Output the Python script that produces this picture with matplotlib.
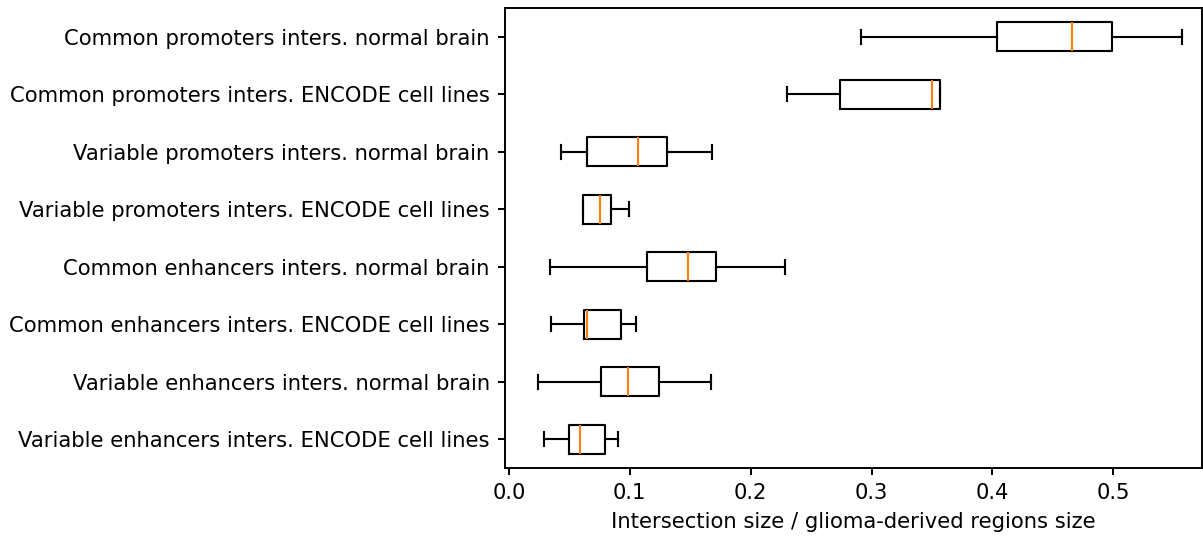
import matplotlib
matplotlib.use("Agg")
import matplotlib.pyplot as plt

# Categories, listed bottom to top as they appear on the y axis
categories = [
    "Variable enhancers inters. ENCODE cell lines",
    "Variable enhancers inters. normal brain",
    "Common enhancers inters. ENCODE cell lines",
    "Common enhancers inters. normal brain",
    "Variable promoters inters. ENCODE cell lines",
    "Variable promoters inters. normal brain",
    "Common promoters inters. ENCODE cell lines",
    "Common promoters inters. normal brain",
]

# Five-number summaries for each category
whisker_low = [0.0287, 0.0237, 0.0345, 0.0339, 0.0612, 0.0428, 0.2297, 0.291]
q1 = [0.0499, 0.0764, 0.0623, 0.1141, 0.0612, 0.0645, 0.274, 0.404]
median = [0.0587, 0.0987, 0.0645, 0.1478, 0.0755, 0.1067, 0.3499, 0.4657]
q3 = [0.0792, 0.1241, 0.0924, 0.1715, 0.0841, 0.1304, 0.357, 0.499]
whisker_high = [0.0904, 0.1673, 0.105, 0.2283, 0.0993, 0.1682, 0.357, 0.557]

xlabel = "Intersection size / glioma-derived regions size"
xticks = [0.0, 0.1, 0.2, 0.3, 0.4, 0.5]

stats = []
for name, lo, a, m, b, hi in zip(categories, whisker_low, q1, median, q3, whisker_high):
    stats.append(dict(label=name, whislo=lo, q1=a, med=m, q3=b, whishi=hi, fliers=[]))

plt.rcParams["font.size"] = 12
plt.rcParams["axes.linewidth"] = 1.1
plt.rcParams["xtick.major.width"] = 1.1
plt.rcParams["ytick.major.width"] = 1.1
plt.rcParams["xtick.major.size"] = 4.2
plt.rcParams["ytick.major.size"] = 4.2
plt.rcParams["xtick.major.pad"] = 4.5
plt.rcParams["ytick.major.pad"] = 4.5

dpi = 127
fig = plt.figure(figsize=(1203 / dpi, 538 / dpi), dpi=dpi)
ax = fig.add_axes([505 / 1203, 70 / 538, 697 / 1203, 460 / 538])

lw = 1.2
ax.bxp(stats, vert=False, showfliers=False,
       boxprops=dict(linewidth=lw),
       whiskerprops=dict(linewidth=lw),
       capprops=dict(linewidth=lw),
       medianprops=dict(linewidth=lw, color="#ff7f0e"))
ax.set_xlim(-0.0033, 0.5735)
ax.set_ylim(0.5, 8.5)
ax.set_xticks(xticks)
ax.set_xticklabels([f"{t:.1f}" for t in xticks])
ax.set_xlabel(xlabel, labelpad=5)

fig.savefig("out.png", dpi=dpi)
